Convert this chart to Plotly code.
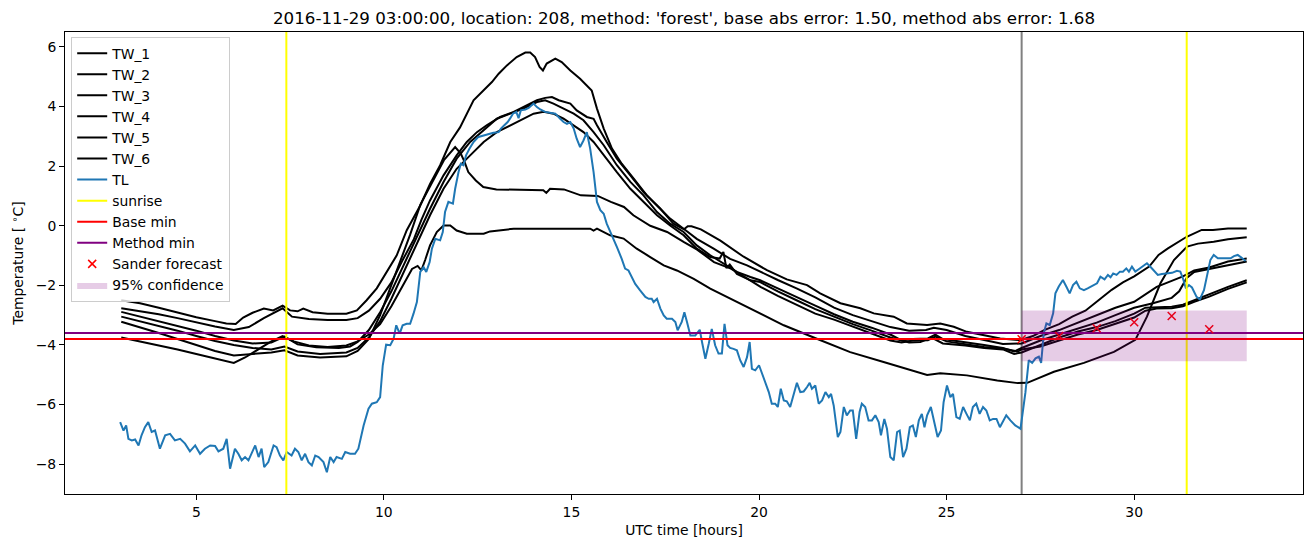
import plotly.graph_objects as go

# ---------------- data ----------------
TITLE = "2016-11-29 03:00:00, location: 208, method: 'forest', base abs error: 1.50, method abs error: 1.68"

TW_1 = [(3.0,-2.5),(3.5,-2.6),(4.0,-2.75),(4.5,-2.92),(5.0,-3.07),(5.5,-3.2),(5.8,-3.28),(6.05,-3.3),(6.25,-3.08),
        (6.5,-2.92),(6.8,-2.78),(7.05,-2.84),(7.3,-2.68),(7.5,-2.84),(7.7,-2.87),(7.85,-2.78),(8.1,-2.9),(8.5,-2.95),
        (9.0,-2.95),(9.28,-2.84),(9.54,-2.5),(9.81,-2.1),(10.08,-1.55),(10.34,-1.0),(10.61,-0.15),(10.97,0.68),
        (11.23,1.4),(11.5,2.03),(11.77,2.81),(12.03,3.3),(12.39,4.21),(12.66,4.54),(12.88,4.82),(13.06,5.1),
        (13.28,5.38),(13.54,5.66),(13.77,5.81),(13.9,5.81),(14.03,5.66),(14.15,5.33),(14.24,5.21),(14.34,5.44),
        (14.57,5.61),(14.74,5.49),(14.97,5.21),(15.23,4.93),(15.54,4.54),(15.68,3.93),(15.86,3.26),(16.08,2.59),
        (16.34,2.08),(16.66,1.58),(17.01,1.02),(17.37,0.57),(17.72,0.07),(18.0,-0.12),(18.1,-0.02),(18.2,-0.02),
        (18.45,-0.12),(18.97,-0.5),(19.59,-1.04),(20.21,-1.49),(20.74,-1.8),(21.28,-1.99),(21.63,-2.27),(22.17,-2.6),
        (22.7,-2.77),(23.06,-2.94),(23.59,-3.05),(23.94,-3.28),(24.48,-3.33),(24.83,-3.28),(25.19,-3.39),(25.54,-3.56),
        (25.99,-3.67),(26.43,-3.78),(26.97,-3.84),(27.3,-3.7),(27.6,-3.5),(28.0,-3.3),(28.35,-3.05),(28.7,-2.85),
        (29.05,-2.5),(29.4,-2.15),(29.7,-1.9),(30.0,-1.7),(30.4,-1.37),(30.65,-0.98),(30.9,-0.76),(31.2,-0.54),
        (31.4,-0.37),(31.8,-0.14),(32.1,-0.14),(32.5,-0.09),(33.0,-0.09)]

TW_2 = [(3.0,-2.77),(3.5,-2.87),(4.0,-2.97),(4.5,-3.1),(5.0,-3.25),(5.5,-3.38),(6.0,-3.5),(6.4,-3.4),(6.8,-3.1),
        (7.1,-2.9),(7.3,-2.77),(7.55,-3.05),(8.0,-3.13),(8.5,-3.16),(9.0,-3.16),(9.3,-3.1),(9.6,-2.85),(9.9,-2.45),
        (10.2,-1.9),(10.5,-1.15),(10.8,-0.45),(11.0,0.2),(11.23,0.85),(11.59,1.69),(11.94,2.36),(12.21,2.81),
        (12.48,3.14),(12.74,3.37),(13.1,3.65),(13.46,3.82),(13.81,4.04),(14.08,4.21),(14.3,4.29),(14.48,4.32),
        (14.66,4.21),(14.97,4.1),(15.14,3.87),(15.41,3.65),(15.59,3.59),(15.68,3.37),(15.94,2.81),(16.21,2.25),
        (16.57,1.69),(16.92,1.13),(17.28,0.68),(17.63,0.24),(17.99,-0.1),(18.34,-0.44),(18.79,-0.77),(19.23,-1.11),
        (19.68,-1.33),(20.03,-1.55),(20.5,-1.82),(21.0,-2.1),(21.5,-2.4),(22.0,-2.75),(22.5,-3.0),(23.0,-3.2),
        (23.5,-3.4),(24.0,-3.52),(24.45,-3.5),(24.66,-3.42),(25.0,-3.5),(25.5,-3.7),(26.0,-3.83),(26.5,-3.97),
        (27.0,-3.95),(27.5,-3.7),(28.0,-3.5),(28.5,-3.25),(29.0,-3.0),(29.5,-2.75),(30.0,-2.55),(30.3,-2.3),
        (30.6,-2.05),(31.0,-1.85),(31.3,-1.7),(31.6,-1.5),(32.0,-1.4),(32.5,-1.2),(33.0,-1.1)]

TW_3 = [(3.0,-2.89),(3.5,-3.05),(4.0,-3.2),(4.5,-3.35),(5.0,-3.52),(5.5,-3.7),(6.0,-3.85),(6.5,-3.95),(7.0,-3.92),
        (7.35,-3.72),(7.7,-3.98),(8.2,-4.08),(8.8,-4.1),(9.1,-4.05),(9.3,-3.9),(9.6,-3.5),(9.9,-2.9),(10.2,-2.2),
        (10.5,-1.4),(10.8,-0.6),(11.0,-0.05),(11.23,0.57),(11.59,1.47),(11.94,2.25),(12.3,2.81),(12.66,3.2),
        (13.01,3.59),(13.37,3.76),(13.72,3.93),(14.08,4.15),(14.3,4.21),(14.52,4.1),(14.79,3.93),(15.06,3.76),
        (15.32,3.54),(15.59,3.14),(15.86,2.7),(16.21,2.03),(16.57,1.47),(16.92,1.02),(17.28,0.46),(17.63,0.07),
        (17.99,-0.21),(18.34,-0.66),(18.7,-0.99),(19.06,-1.27),(19.41,-1.55),(19.77,-1.72),(20.03,-1.83),(20.5,-2.1),
        (21.0,-2.38),(21.5,-2.68),(22.0,-2.97),(22.5,-3.22),(23.0,-3.42),(23.5,-3.65),(23.8,-3.85),(24.1,-3.8),
        (24.5,-3.78),(24.7,-3.65),(24.9,-3.8),(25.5,-3.9),(26.0,-4.0),(26.5,-4.1),(26.8,-4.22),(27.0,-4.1),
        (27.5,-3.85),(28.0,-3.65),(28.5,-3.45),(29.0,-3.25),(29.5,-3.0),(30.0,-2.75),(30.5,-2.6),(31.0,-2.42),
        (31.2,-2.2),(31.4,-1.75),(31.6,-1.55),(32.0,-1.45),(32.5,-1.3),(33.0,-1.2)]

TW_4 = [(3.0,-3.05),(3.5,-3.2),(4.0,-3.35),(4.5,-3.52),(5.0,-3.7),(5.5,-3.87),(6.0,-4.0),(6.5,-4.1),(7.0,-4.15),
        (7.35,-4.05),(7.7,-4.22),(8.3,-4.3),(9.0,-4.25),(9.3,-4.1),(9.6,-3.75),(9.9,-3.2),(10.2,-2.45),(10.5,-1.65),
        (10.8,-0.85),(11.0,-0.3),(11.23,0.35),(11.59,1.24),(11.94,1.91),(12.3,2.36),(12.66,2.81),(13.01,3.14),
        (13.37,3.37),(13.72,3.59),(13.99,3.76),(14.26,3.82),(14.52,3.76),(14.79,3.59),(15.06,3.37),(15.32,3.14),
        (15.59,2.81),(15.86,2.36),(16.21,1.8),(16.57,1.24),(16.92,0.8),(17.28,0.35),(17.63,0.01),(17.99,-0.32),
        (18.34,-0.77),(18.7,-1.05),(18.95,-1.1),(19.05,-0.88),(19.13,-1.42),(19.22,-1.3),(19.41,-1.62),(19.77,-1.83),
        (20.03,-1.89),(20.5,-2.2),(21.0,-2.5),(21.5,-2.8),(22.0,-3.05),(22.5,-3.3),(23.0,-3.52),(23.5,-3.75),
        (24.0,-3.92),(24.3,-3.9),(24.6,-3.75),(24.9,-3.95),(25.5,-4.02),(26.0,-4.1),(26.5,-4.15),(26.8,-4.3),
        (27.0,-4.25),(27.5,-4.0),(28.0,-3.75),(28.5,-3.55),(29.0,-3.4),(29.5,-3.2),(30.0,-2.95),(30.3,-2.75),
        (31.0,-2.72),(31.3,-2.65),(31.6,-2.5),(32.0,-2.3),(32.5,-2.05),(33.0,-1.83)]

TW_5 = [(3.0,-3.22),(3.5,-3.4),(4.0,-3.6),(4.5,-3.8),(5.0,-4.0),(5.5,-4.2),(6.0,-4.35),(6.5,-4.3),(7.0,-4.25),
        (7.35,-4.18),(7.7,-4.35),(8.3,-4.42),(9.0,-4.38),(9.3,-4.2),(9.6,-3.8),(9.9,-3.0),(10.2,-2.0),(10.5,-1.0),
        (10.7,-0.3),(10.97,0.7),(11.3,1.5),(11.6,2.2),(11.9,2.64),(12.05,2.42),(12.15,2.14),(12.25,1.8),(12.45,1.52),
        (12.65,1.3),(13.0,1.22),(14.25,1.19),(14.33,1.1),(14.43,1.24),(14.8,1.22),(15.25,1.02),(15.7,1.0),(16.05,0.8),
        (16.4,0.63),(16.65,0.35),(17.1,0.0),(17.55,-0.21),(18.0,-0.55),(18.35,-0.8),(18.8,-1.22),(19.25,-1.44),
        (19.7,-1.78),(20.05,-2.06),(20.5,-2.35),(21.0,-2.65),(21.5,-2.95),(22.0,-3.15),(22.5,-3.38),(23.0,-3.62),
        (23.5,-3.85),(23.8,-3.92),(24.1,-3.85),(24.5,-3.84),(24.7,-3.72),(25.0,-3.88),(25.5,-3.97),(26.0,-4.07),
        (26.5,-4.12),(26.9,-4.22),(27.0,-4.15),(27.5,-4.05),(28.0,-3.85),(28.5,-3.65),(29.0,-3.5),(29.5,-3.3),
        (30.0,-3.08),(30.3,-2.85),(30.6,-2.78),(31.0,-2.77),(31.3,-2.7),(31.6,-2.55),(32.0,-2.38),(32.5,-2.12),
        (33.0,-1.9)]

TW_6 = [(3.0,-3.75),(3.5,-3.88),(4.0,-4.0),(4.5,-4.15),(5.0,-4.3),(5.5,-4.45),(6.0,-4.6),(6.3,-4.42),(6.7,-4.1),
        (7.0,-3.88),(7.3,-3.7),(7.6,-3.88),(8.0,-4.02),(8.5,-4.07),(9.0,-4.02),(9.3,-3.88),(9.6,-3.65),(9.9,-3.3),
        (10.2,-2.7),(10.5,-2.0),(10.75,-1.45),(10.9,-1.35),(11.0,-1.5),(11.1,-1.15),(11.23,-0.66),(11.41,-0.21),
        (11.59,0.01),(11.77,0.01),(11.94,-0.16),(12.21,-0.27),(12.66,-0.27),(12.83,-0.19),(13.46,-0.1),(15.5,-0.1),
        (15.59,-0.16),(15.68,-0.1),(16.03,-0.32),(16.39,-0.43),(16.74,-0.77),(17.1,-1.05),(17.46,-1.33),(17.81,-1.5),
        (18.26,-1.78),(18.7,-2.11),(19.06,-2.34),(19.41,-2.56),(19.77,-2.78),(20.05,-2.95),(20.66,-3.34),(21.54,-3.79),
        (22.43,-4.24),(23.32,-4.57),(24.03,-4.85),(24.48,-5.01),(24.83,-4.95),(25.54,-5.02),(26.35,-5.19),(26.9,-5.28),
        (27.15,-5.27),(27.86,-4.9),(28.66,-4.6),(29.46,-4.23),(30.03,-3.83),(30.34,-3.05),(30.7,-1.93),(31.06,-1.15),
        (31.41,-0.7),(31.7,-0.6),(32.12,-0.54),(32.5,-0.45),(33.0,-0.39)]

TL = [(2.97,-6.59),(3.06,-6.87),(3.13,-6.70),(3.19,-7.15),(3.28,-7.20),(3.37,-7.17),(3.46,-7.37),(3.54,-7.03),
      (3.63,-6.76),(3.72,-6.59),(3.81,-6.92),(3.90,-6.87),(4.03,-7.48),(4.17,-7.03),(4.30,-6.98),(4.43,-7.20),
      (4.57,-7.15),(4.70,-7.31),(4.83,-7.57),(4.97,-7.37),(5.10,-7.65),(5.23,-7.48),(5.37,-7.37),(5.50,-7.39),
      (5.59,-7.57),(5.72,-7.48),(5.81,-7.15),(5.90,-8.15),(6.03,-7.48),(6.12,-7.65),(6.21,-7.87),(6.30,-7.76),
      (6.39,-7.87),(6.48,-7.59),(6.57,-7.37),(6.66,-7.76),(6.74,-7.48),(6.81,-8.10),(6.92,-7.93),(7.06,-7.37),
      (7.14,-7.43),(7.23,-7.71),(7.32,-7.87),(7.41,-7.59),(7.54,-7.71),(7.63,-7.48),(7.72,-7.59),(7.81,-7.87),
      (7.90,-7.65),(7.99,-7.93),(8.08,-8.04),(8.17,-7.71),(8.26,-7.76),(8.39,-7.93),(8.48,-8.27),(8.57,-7.76),
      (8.66,-7.93),(8.74,-7.76),(8.88,-7.82),(8.97,-7.59),(9.10,-7.65),(9.23,-7.65),(9.32,-7.48),(9.46,-6.70),
      (9.59,-6.14),(9.68,-5.97),(9.81,-5.92),(9.90,-5.75),(9.97,-4.69),(10.06,-3.99),(10.17,-4.01),(10.26,-3.79),
      (10.33,-3.34),(10.42,-3.62),(10.50,-3.34),(10.61,-3.29),(10.70,-3.29),(10.79,-2.95),(10.88,-2.56),(10.97,-1.55),
      (11.06,-1.39),(11.13,-1.55),(11.22,-1.22),(11.28,-0.77),(11.37,-0.44),(11.50,-0.49),(11.57,-0.21),(11.63,0.46),
      (11.72,0.80),(11.84,0.74),(11.90,1.24),(11.99,1.80),(12.05,2.08),(12.12,2.03),(12.19,2.36),(12.28,2.58),
      (12.39,2.81),(12.52,2.98),(12.66,3.03),(12.79,3.09),(12.92,3.12),(13.06,3.14),(13.12,3.26),(13.21,3.37),
      (13.30,3.48),(13.37,3.61),(13.44,3.76),(13.53,3.82),(13.59,3.61),(13.65,3.87),(13.77,3.90),(13.86,3.95),
      (13.99,4.10),(14.08,3.98),(14.17,3.90),(14.30,3.82),(14.43,3.79),(14.57,3.76),(14.70,3.59),(14.79,3.48),
      (14.88,3.42),(14.97,3.48),(15.06,3.26),(15.14,2.92),(15.23,2.64),(15.32,2.86),(15.41,3.14),(15.50,2.58),
      (15.59,1.80),(15.68,0.80),(15.77,0.52),(15.86,0.40),(15.94,0.07),(16.08,-0.32),(16.21,-0.71),(16.34,-1.11),
      (16.43,-1.44),(16.52,-1.50),(16.61,-1.72),(16.70,-1.95),(16.83,-2.17),(16.97,-2.39),(17.06,-2.45),(17.14,-2.45),
      (17.19,-2.56),(17.28,-2.45),(17.37,-2.78),(17.46,-3.01),(17.54,-3.12),(17.68,-3.12),(17.77,-3.23),(17.83,-3.51),
      (17.94,-3.23),(18.01,-2.90),(18.08,-3.23),(18.17,-3.68),(18.30,-3.68),(18.42,-3.49),(18.48,-3.90),(18.57,-4.46),
      (18.66,-3.96),(18.74,-3.46),(18.83,-4.01),(18.92,-4.29),(19.01,-4.29),(19.08,-3.29),(19.16,-4.01),(19.23,-4.10),
      (19.32,-4.13),(19.41,-4.18),(19.50,-4.52),(19.59,-4.74),(19.68,-4.41),(19.75,-3.90),(19.81,-4.80),(19.90,-4.85),
      (20.00,-4.68),(20.08,-4.97),(20.17,-5.24),(20.26,-5.58),(20.34,-5.97),(20.43,-5.97),(20.50,-6.08),(20.58,-5.47),
      (20.66,-5.86),(20.74,-5.89),(20.83,-6.08),(20.92,-5.69),(21.01,-5.27),(21.10,-5.58),(21.19,-5.56),(21.28,-5.41),
      (21.35,-5.27),(21.41,-5.47),(21.50,-5.36),(21.59,-5.97),(21.68,-5.86),(21.77,-5.58),(21.86,-5.75),(21.92,-5.64),
      (21.99,-6.03),(22.10,-7.09),(22.17,-6.92),(22.26,-6.08),(22.34,-6.36),(22.43,-6.20),(22.50,-6.20),(22.59,-7.15),
      (22.68,-6.25),(22.74,-5.97),(22.83,-6.08),(22.92,-6.53),(23.01,-6.53),(23.10,-6.36),(23.19,-6.59),(23.25,-7.03),
      (23.34,-6.48),(23.41,-6.81),(23.50,-7.76),(23.59,-7.87),(23.68,-6.92),(23.75,-6.87),(23.84,-7.76),(23.93,-7.48),
      (24.02,-6.76),(24.10,-6.70),(24.18,-7.09),(24.26,-6.53),(24.34,-6.31),(24.41,-6.76),(24.48,-6.36),(24.58,-6.08),
      (24.67,-6.64),(24.76,-7.09),(24.85,-6.87),(24.92,-5.92),(25.01,-5.36),(25.10,-5.75),(25.17,-5.64),(25.26,-6.42),
      (25.35,-6.48),(25.44,-6.08),(25.53,-6.31),(25.62,-6.53),(25.70,-6.08),(25.79,-5.97),(25.88,-6.31),(25.97,-6.08),
      (26.06,-6.20),(26.15,-6.53),(26.24,-6.48),(26.33,-6.48),(26.42,-6.76),(26.51,-6.53),(26.59,-6.36),(26.70,-6.53),
      (26.83,-6.70),(26.97,-6.81),(27.10,-5.60),(27.19,-4.51),(27.28,-4.60),(27.37,-4.45),(27.46,-4.39),(27.52,-4.60),
      (27.59,-3.61),(27.66,-3.28),(27.75,-3.33),(27.84,-2.94),(27.90,-2.27),(27.99,-2.04),(28.10,-1.82),(28.19,-2.04),
      (28.28,-2.27),(28.37,-1.99),(28.46,-1.88),(28.55,-2.10),(28.66,-2.16),(28.76,-2.10),(28.88,-2.02),(29.01,-1.93),
      (29.10,-1.71),(29.21,-1.80),(29.30,-1.65),(29.37,-1.73),(29.44,-1.60),(29.53,-1.65),(29.62,-1.54),(29.70,-1.54),
      (29.79,-1.43),(29.86,-1.54),(29.94,-1.37),(30.03,-1.54),(30.12,-1.46),(30.24,-1.35),(30.34,-1.26),(30.45,-1.40),
      (30.54,-1.54),(30.63,-1.65),(30.74,-1.62),(30.88,-1.60),(31.01,-1.58),(31.14,-1.51),(31.23,-1.54),(31.30,-1.77),
      (31.38,-2.10),(31.46,-1.99),(31.54,-2.07),(31.66,-2.38),(31.75,-2.47),(31.86,-2.16),(31.94,-1.65),(32.03,-1.15),
      (32.12,-0.98),(32.23,-1.09),(32.39,-1.09),(32.57,-1.09),(32.66,-1.02),(32.76,-0.98),(32.85,-1.06),(32.97,-1.18)]

SUNRISE_HOURS = [7.4, 31.4]
FORECAST_START = 27.0
BASE_MIN = -3.8
METHOD_MIN = -3.6
SANDER_HOURS = [27, 28, 29, 30, 31, 32]
SANDER_TEMP = [-3.81, -3.70, -3.44, -3.24, -3.03, -3.47]
CONF_HOURS = [27.0, 33.0]
CONF_LOW = [-4.55, -4.55]
CONF_HIGH = [-2.84, -2.84]
X_RANGE = [1.5, 34.5]
Y_RANGE = [-9.0, 6.5]
X_TICKS = [5, 10, 15, 20, 25, 30]
Y_TICKS = [-8, -6, -4, -2, 0, 2, 4, 6]

FONT = "DejaVu Sans"
LW = 2.0

fig = go.Figure()

# grey forecast-start line (no legend)
fig.add_trace(go.Scatter(x=[FORECAST_START, FORECAST_START], y=Y_RANGE, mode="lines",
                         line=dict(color="grey", width=LW), showlegend=False, hoverinfo="skip"))

for name, series in [("TW_1", TW_1), ("TW_2", TW_2), ("TW_3", TW_3),
                     ("TW_4", TW_4), ("TW_5", TW_5), ("TW_6", TW_6)]:
    fig.add_trace(go.Scatter(x=[p[0] for p in series], y=[p[1] for p in series], mode="lines",
                             name=name, line=dict(color="black", width=LW)))

fig.add_trace(go.Scatter(x=[p[0] for p in TL], y=[p[1] for p in TL], mode="lines", name="TL",
                         line=dict(color="#1f77b4", width=LW)))

sx, sy = [], []
for h in SUNRISE_HOURS:
    sx += [h, h, None]
    sy += [Y_RANGE[0], Y_RANGE[1], None]
fig.add_trace(go.Scatter(x=sx, y=sy, mode="lines", name="sunrise", line=dict(color="yellow", width=LW)))

fig.add_trace(go.Scatter(x=X_RANGE, y=[BASE_MIN, BASE_MIN], mode="lines", name="Base min",
                         line=dict(color="red", width=LW)))
fig.add_trace(go.Scatter(x=X_RANGE, y=[METHOD_MIN, METHOD_MIN], mode="lines", name="Method min",
                         line=dict(color="purple", width=LW)))

fig.add_trace(go.Scatter(x=SANDER_HOURS, y=SANDER_TEMP, mode="markers", name="Sander forecast",
                         marker=dict(symbol="x-thin", size=8, color="red", line=dict(color="red", width=1.5))))

fig.add_trace(go.Scatter(x=CONF_HOURS, y=CONF_LOW, mode="lines", line=dict(width=0),
                         showlegend=False, hoverinfo="skip"))
fig.add_trace(go.Scatter(x=CONF_HOURS, y=CONF_HIGH, mode="lines", line=dict(width=0),
                         fill="tonexty", fillcolor="rgba(128,0,128,0.2)", name="95% confidence"))

axis_common = dict(showline=True, mirror=True, linecolor="black", linewidth=1, ticks="outside",
                   ticklen=5, tickwidth=1, tickcolor="black", showgrid=False, zeroline=False,
                   automargin=False, tickfont=dict(family=FONT, size=13.9, color="black"))

# the page body adds an 8 px offset, so the figure is 8 px smaller and margins compensate
fig.update_layout(
    width=1305, height=539,
    margin=dict(l=57, r=10, t=24, b=53),
    paper_bgcolor="white", plot_bgcolor="white",
    font=dict(family=FONT, size=13.9, color="black"),
    title=dict(text=TITLE, x=0.5, xref="paper", xanchor="center", y=1 - 10 / 539, yref="container",
               yanchor="middle", font=dict(family=FONT, size=16.7, color="black")),
    xaxis=dict(range=X_RANGE, tickvals=X_TICKS, title=dict(text="UTC time [hours]", standoff=6,
               font=dict(family=FONT, size=13.9)), **axis_common),
    yaxis=dict(range=Y_RANGE, tickvals=Y_TICKS, title=dict(text="Temperature [ <sup>∘</sup>C]", standoff=8,
               font=dict(family=FONT, size=13.9)), **axis_common),
    legend=dict(x=0.005, y=0.99, xanchor="left", yanchor="top", bgcolor="rgba(255,255,255,0.8)",
                bordercolor="#cccccc", borderwidth=1, font=dict(family=FONT, size=13.9, color="black"),
                tracegroupgap=0, itemwidth=30, traceorder="normal"),
    showlegend=True,
)

fig.write_html("out.html")
